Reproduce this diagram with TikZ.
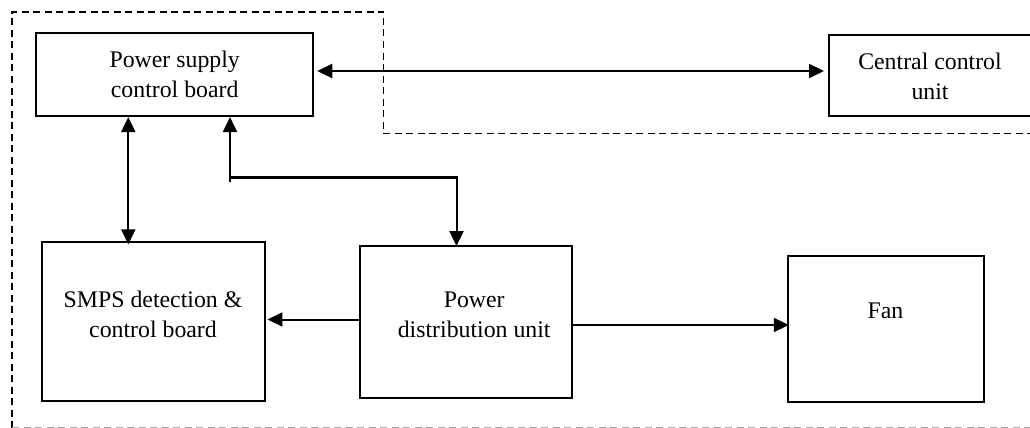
\documentclass[tikz,border=0pt]{standalone}
\usepackage{fontspec}
\setmainfont{Liberation Serif}
\usetikzlibrary{arrows.meta}
\begin{document}
\begin{tikzpicture}[x=1pt,y=-1pt,
  box/.style={draw, line width=2pt, inner sep=0pt, minimum width=#1},
  lbl/.style={anchor=north, inner sep=0pt, align=center, font=\fontsize{23.8}{30}\selectfont},
  conn/.style={line width=2pt, -{Triangle[length=15pt,width=14pt]}},
  dconn/.style={line width=2pt, {Triangle[length=15pt,width=14pt]}-{Triangle[length=15pt,width=14pt]}},
  region/.style={dash pattern=on 7pt off 4.5pt, line width=1.9pt}]
\useasboundingbox (0,0) rectangle (1030,428);
\clip (0,0) rectangle (1030,428);
% dashed region
\draw[region] (12,428) -- (12,12) -- (383.5,12) -- (383.5,133.5) -- (1040,133.5);
\draw[region, gray!70, line width=1.6pt] (12,427.5) -- (1040,427.5);
% boxes
\node[box=277.5pt, minimum height=82.7pt] (pscb) at (174.5,74.7) {};
\node[box=203pt, minimum height=81pt] (ccu) at (930.5,75.5) {};
\node[box=223.3pt, minimum height=158.7pt] (smps) at (153.3,321.7) {};
\node[box=212.3pt, minimum height=152.3pt] (pdu) at (466.2,322.2) {};
\node[box=196pt, minimum height=146.3pt] (fan) at (886.3,328.9) {};
% labels
\node[lbl] (pscbt) at (174.7,51) {Power supply\\control board};
\node[lbl] (ccut) at (930,53) {Central control\\unit};
\node[lbl] (smpst) at (153,290.5) {SMPS detection \&\\control board};
\node[lbl] (pdut) at (474.2,291.5) {Power\\distribution unit};
\node[lbl] (fant) at (885.5,303) {Fan};
% connectors
\coordinate (jL) at (230,177.3);
\coordinate (jR) at (456.5,177.3);
\draw[dconn] ([xshift=3pt]pscb.east |- 0,71) -- ([xshift=-4pt]ccu.west |- 0,71);
\draw[dconn] (pscb.south -| 128.3,0) -- ([yshift=-3pt]smps.north -| 128.3,0);
\draw[line width=2pt] (jL) -- ++(0,4.5);
\draw[conn] (jL) -- (pscb.south -| jL);
\draw[line width=2.8pt] (jL) -- ([xshift=1.4pt]jR);
\draw[conn] (jR) -- ([yshift=-1pt]pdu.north -| jR);
\draw[conn] (pdu.west |- 0,319.5) -- ([xshift=1.5pt]smps.east |- 0,319.5);
\draw[conn] (pdu.east |- 0,325) -- ([xshift=1.5pt]fan.west |- 0,325);
\end{tikzpicture}
\end{document}
